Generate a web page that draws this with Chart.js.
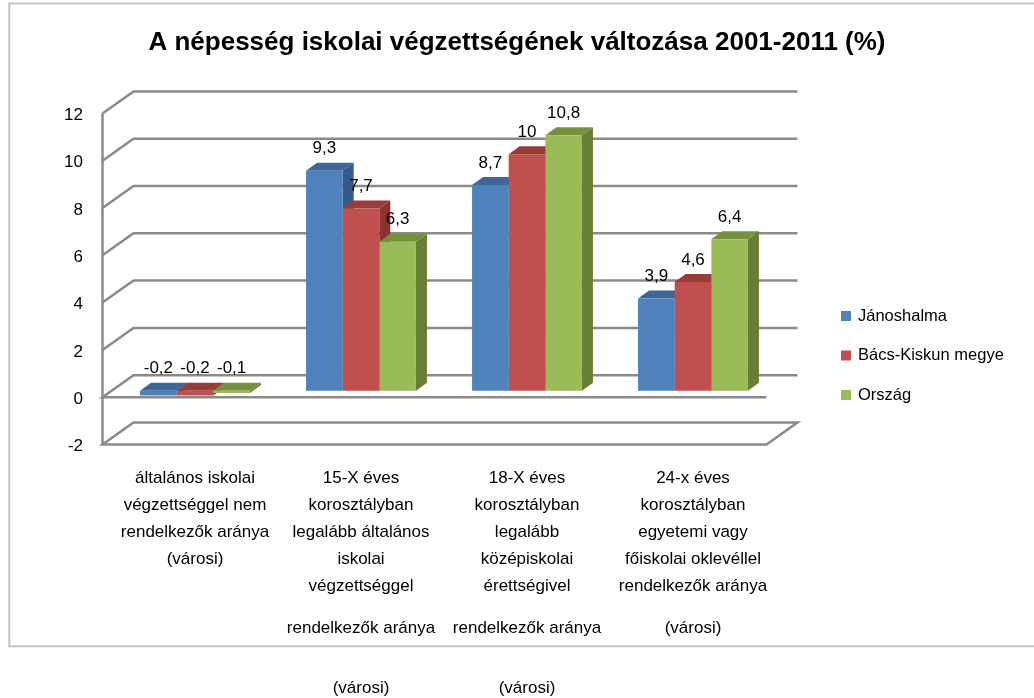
<!DOCTYPE html>
<html><head><meta charset="utf-8">
<script src="https://cdn.jsdelivr.net/npm/chart.js@4.4.1/dist/chart.umd.min.js"></script>
<style>html,body{margin:0;padding:0;background:#fff;overflow:hidden}canvas{display:block}</style>
</head><body>
<canvas id="c" width="1034" height="698"></canvas>
<script>
// ---------- data ----------
const chartTitle = 'A népesség iskolai végzettségének változása 2001-2011 (%)';
const categories = [
  ['általános iskolai', 'végzettséggel nem', 'rendelkezők aránya', '(városi)'],
  ['15-X éves', 'korosztályban', 'legalább általános', 'iskolai', 'végzettséggel'],
  ['18-X éves', 'korosztályban', 'legalább', 'középiskolai', 'érettségivel'],
  ['24-x éves', 'korosztályban', 'egyetemi vagy', 'főiskolai oklevéllel', 'rendelkezők aránya']
];
const categoryRow2 = ['', 'rendelkezők aránya', 'rendelkezők aránya', '(városi)'];
const categoryRow3 = ['', '(városi)', '(városi)', ''];
const seriesNames = ['Jánoshalma', 'Bács-Kiskun megye', 'Ország'];
const janoshalma = [-0.2, 9.3, 8.7, 3.9];
const bacsKiskun = [-0.2, 7.7, 10, 4.6];
const orszag = [-0.1, 6.3, 10.8, 6.4];
const yTicks = [-2, 0, 2, 4, 6, 8, 10, 12];

// ---------- style ----------
const SANS = "'Liberation Sans', Arial, sans-serif";
const frontColors = ['#4f81bd', '#c0504d', '#9bbb59'];
const sideColors = ['#34598a', '#8a3230', '#677f33'];
const topColors = ['#3e6797', '#963d3a', '#76913e'];
const D = { fx: -9.5, fy: 6.5, bx: 21.5, by: -15.5, barDx: 11, barDy: 8 };
const PLOT_RIGHT = 776;
const LEGEND = { x: 841, y: 316, step: 39.5, box: 10, gap: 7, size: 16.5 };

const fmt = v => String(v).replace('.', ',');

const threeD = {
  id: 'threeD',
  beforeDraw(chart) {
    const ctx = chart.ctx;
    ctx.save();
    ctx.fillStyle = '#ffffff';
    ctx.fillRect(0, 0, chart.width, chart.height);
    ctx.strokeStyle = '#c2c2c2';
    ctx.lineWidth = 2;
    ctx.strokeRect(9.3, 3.5, 1100, 642.8);
    ctx.restore();
  },
  beforeDatasetsDraw(chart) {
    const { ctx, chartArea: a } = chart;
    const y = chart.scales.y;
    ctx.save();
    ctx.strokeStyle = '#8a8a8a';
    ctx.lineWidth = 2.5;
    ctx.lineJoin = 'miter';
    const lo = yTicks[0], hi = yTicks[yTicks.length - 1];
    yTicks.forEach(v => {
      const p = y.getPixelForValue(v);
      const fl = [a.left + D.fx, p + D.fy], bl = [a.left + D.bx, p + D.by];
      const br = [a.right + D.bx, p + D.by], fr = [a.right + D.fx, p + D.fy];
      ctx.beginPath();
      if (v === lo) {
        ctx.moveTo(...fr); ctx.lineTo(...fl); ctx.lineTo(...bl); ctx.lineTo(...br); ctx.closePath();
      } else if (v === 0) {
        ctx.moveTo(...fr); ctx.lineTo(...fl); ctx.lineTo(...bl); ctx.lineTo(...br);
      } else {
        ctx.moveTo(...fl); ctx.lineTo(...bl); ctx.lineTo(...br);
      }
      ctx.stroke();
    });
    ctx.beginPath();
    ctx.moveTo(a.left + D.fx, y.getPixelForValue(hi) + D.fy);
    ctx.lineTo(a.left + D.fx, y.getPixelForValue(lo) + D.fy);
    ctx.stroke();
    // bar side and top faces
    const n = chart.data.datasets.length;
    for (let j = 0; j < categories.length; j++) {
      for (let i = 0; i < n; i++) {
        const el = chart.getDatasetMeta(i).data[j];
        if (!el) continue;
        const { x, y: yy, base, width } = el.getProps(['x', 'y', 'base', 'width'], true);
        const l = x - width / 2, r = x + width / 2;
        const t = Math.min(yy, base), b = Math.max(yy, base);
        ctx.fillStyle = sideColors[i];
        ctx.beginPath();
        ctx.moveTo(r, t); ctx.lineTo(r + D.barDx, t - D.barDy);
        ctx.lineTo(r + D.barDx, b - D.barDy); ctx.lineTo(r, b); ctx.closePath();
        ctx.fill();
        ctx.fillStyle = topColors[i];
        ctx.beginPath();
        ctx.moveTo(l, t); ctx.lineTo(l + D.barDx, t - D.barDy);
        ctx.lineTo(r + D.barDx, t - D.barDy); ctx.lineTo(r, t); ctx.closePath();
        ctx.fill();
      }
    }
    ctx.restore();
  },
  afterDatasetsDraw(chart) {
    const ctx = chart.ctx;
    ctx.save();
    ctx.font = '17px ' + SANS;
    ctx.fillStyle = '#000';
    ctx.textAlign = 'center';
    ctx.textBaseline = 'middle';
    chart.data.datasets.forEach((ds, i) => {
      chart.getDatasetMeta(i).data.forEach((el, j) => {
        const { x, y, base } = el.getProps(['x', 'y', 'base'], true);
        ctx.fillText(fmt(ds.data[j]), x, Math.min(y, base) - 22);
      });
    });
    ctx.restore();
  },
  afterDraw(chart) {
    // legend built from the chart's datasets
    const ctx = chart.ctx;
    ctx.save();
    ctx.font = LEGEND.size + 'px ' + SANS;
    ctx.textAlign = 'left';
    ctx.textBaseline = 'middle';
    chart.data.datasets.forEach((ds, i) => {
      const cy = LEGEND.y + i * LEGEND.step;
      ctx.fillStyle = ds.backgroundColor;
      ctx.fillRect(LEGEND.x, cy - LEGEND.box / 2, LEGEND.box, LEGEND.box);
      ctx.fillStyle = '#000';
      ctx.fillText(ds.label, LEGEND.x + LEGEND.box + LEGEND.gap, cy);
    });
    ctx.restore();
  }
};

const xTickFont = { family: SANS, size: 17, lineHeight: 27 / 17 };

new Chart(document.getElementById('c'), {
  type: 'bar',
  data: {
    labels: categories,
    datasets: [
      { label: seriesNames[0], data: janoshalma, backgroundColor: frontColors[0] },
      { label: seriesNames[1], data: bacsKiskun, backgroundColor: frontColors[1] },
      { label: seriesNames[2], data: orszag, backgroundColor: frontColors[2] }
    ]
  },
  options: {
    responsive: false,
    devicePixelRatio: 1,
    animation: false,
    events: [],
    layout: { padding: { top: 14, right: 0, bottom: 0, left: 0 } },
    datasets: { bar: { categoryPercentage: 0.662, barPercentage: 1, borderWidth: 0 } },
    plugins: {
      title: {
        display: true, text: chartTitle, color: '#000',
        font: { family: SANS, size: 26, weight: 'bold', lineHeight: 1.2 },
        padding: { top: 13, bottom: 48.7 }
      },
      legend: { display: false },
      tooltip: { enabled: false }
    },
    scales: {
      x: {
        type: 'category', position: 'bottom', weight: 0,
        grid: { display: false, drawTicks: false }, border: { display: false },
        ticks: { font: xTickFont, color: '#000', padding: 26.5, autoSkip: false, maxRotation: 0, minRotation: 0 },
        afterFit(s) { s.height = 160; }
      },
      x2: {
        type: 'category', position: 'bottom', weight: 1, labels: categoryRow2, offset: true,
        grid: { display: false, drawTicks: false }, border: { display: false },
        ticks: { font: xTickFont, color: '#000', padding: 16.5, autoSkip: false, maxRotation: 0, minRotation: 0 },
        afterFit(s) { s.height = 60; }
      },
      x3: {
        type: 'category', position: 'bottom', weight: 2, labels: categoryRow3, offset: true,
        grid: { display: false, drawTicks: false }, border: { display: false },
        ticks: { font: xTickFont, color: '#000', padding: 16.5, autoSkip: false, maxRotation: 0, minRotation: 0 },
        afterFit(s) { s.height = 40; }
      },
      y: {
        type: 'linear', position: 'left', min: yTicks[0], max: yTicks[yTicks.length - 1],
        grid: { display: false, drawTicks: false }, border: { display: false },
        afterBuildTicks(s) { s.ticks = yTicks.map(v => ({ value: v })); },
        ticks: { font: { family: SANS, size: 17 }, color: '#000', padding: 29, labelOffset: 8.5,
                 callback: v => String(v) },
        afterFit(s) { s.width = 112; }
      },
      yR: {
        type: 'linear', position: 'right', weight: 0,
        grid: { display: false, drawTicks: false }, border: { display: false },
        ticks: { display: false },
        afterFit(s) { s.width = 1034 - PLOT_RIGHT; }
      }
    }
  },
  plugins: [threeD]
});
</script>
</body></html>
